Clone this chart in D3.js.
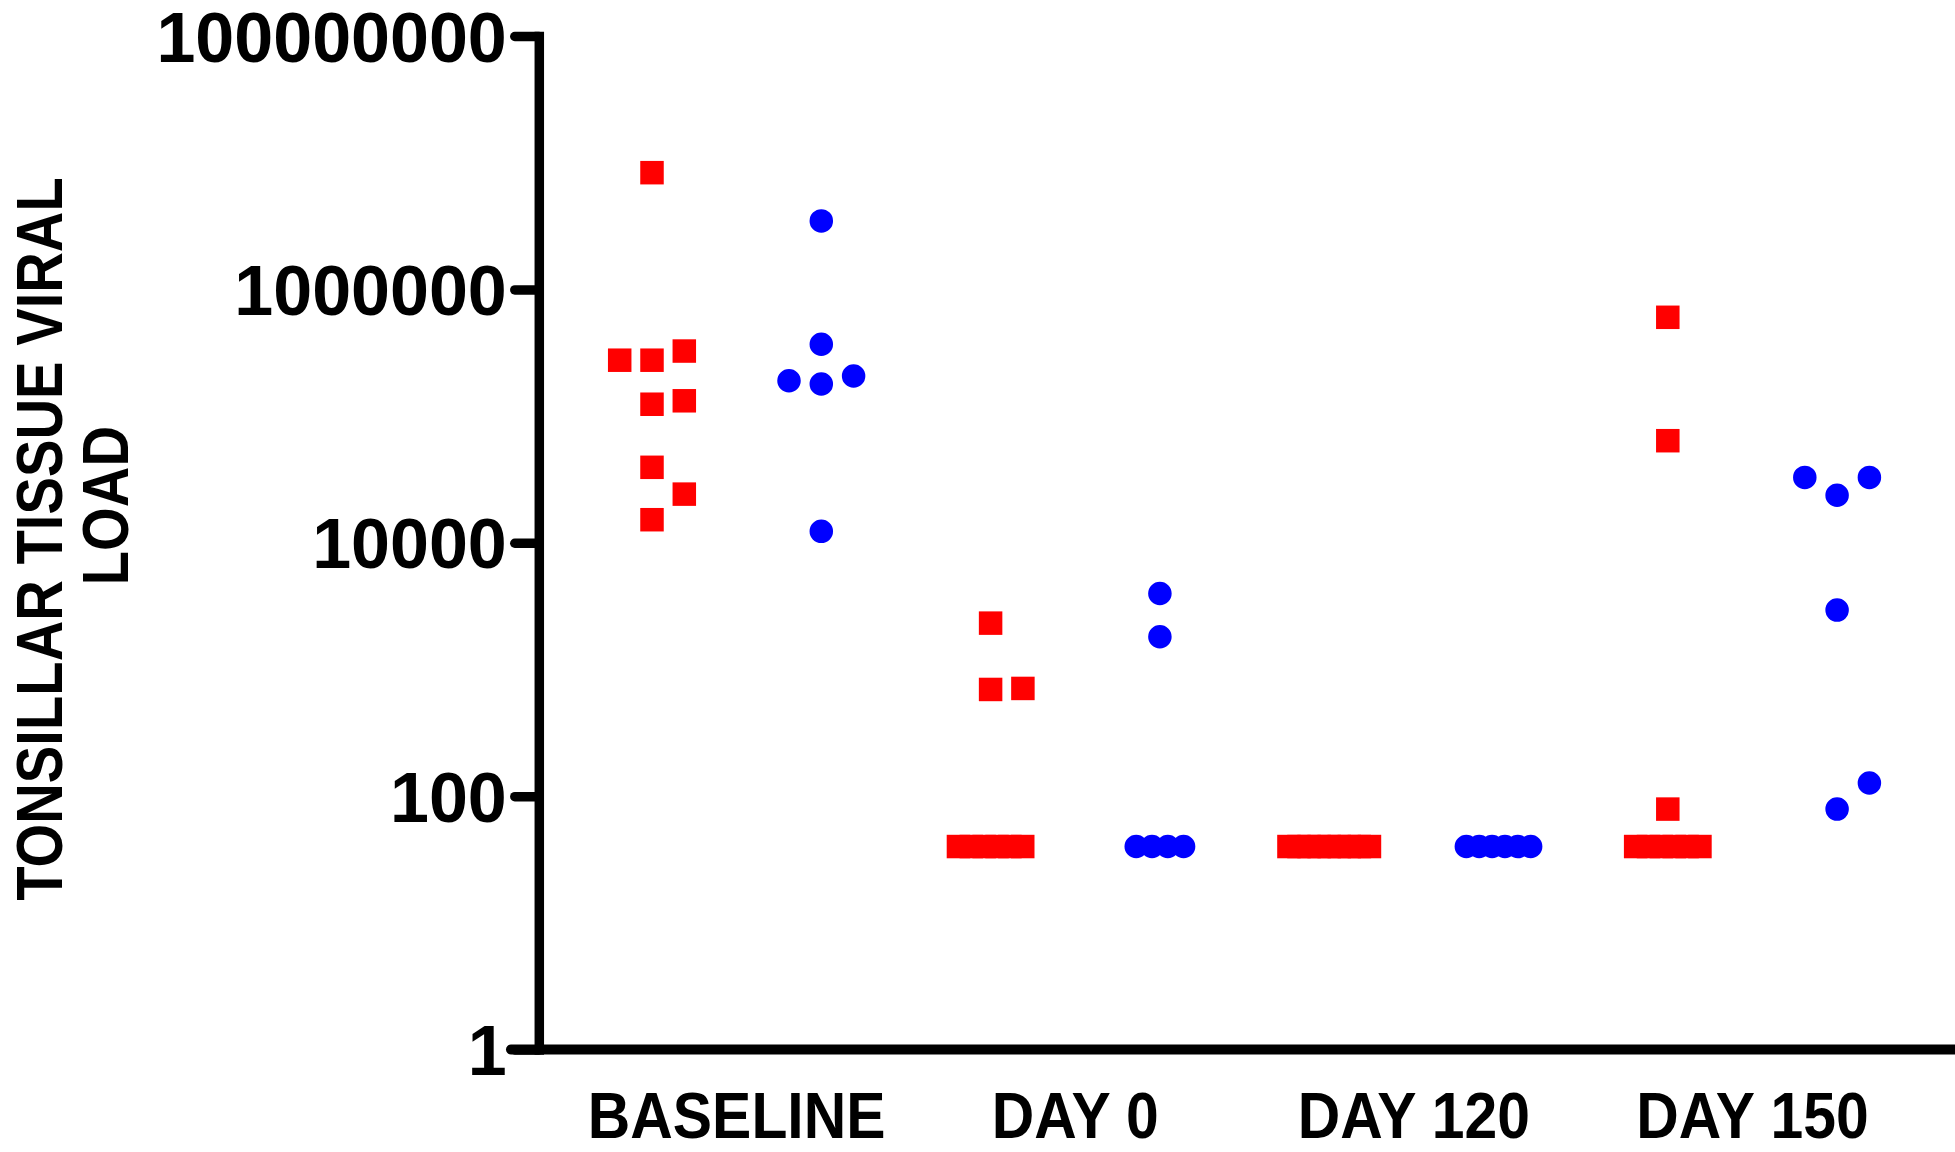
<!DOCTYPE html>
<html>
<head>
<meta charset="utf-8">
<script src="https://cdn.jsdelivr.net/npm/d3@7"></script>
<style>
  body { margin: 0; background: #fff; }
  text { font-family: "Liberation Sans", Arial, sans-serif; font-weight: bold; }
</style>
</head>
<body>
<div id="chart"></div>
<script>
const categories = ["BASELINE", "DAY 0", "DAY 120", "DAY 150"];
const series = ["squares", "circles"];
const yTicks = [1, 100, 10000, 1000000, 100000000];
const titleLines = ["TONSILLAR TISSUE VIRAL", "LOAD"];
const LOD = 40; // values below detection are plotted at this level

// red squares, one array per time point
const squaresBaseline = [276000, 326000, 276000, 124000, 132000, 39400, 15200, 24200, 8340000];
const squaresDay0 = [695, 708, 2320, 40, 40, 40, 40, 40, 40];
const squaresDay120 = [40, 40, 40, 40, 40, 40, 40, 40, 40];
const squaresDay150 = [602000, 63900, 79, 40, 40, 40, 40, 40, 40];

// blue circles
const circlesBaseline = [369000, 179000, 207000, 190000, 12300, 3470000];
const circlesDay0 = [3980, 1810, 40, 40, 40, 40];
const circlesDay120 = [40, 40, 40, 40, 40, 40];
const circlesDay150 = [23700, 32800, 32800, 2940, 79, 127];

const squares = [squaresBaseline, squaresDay0, squaresDay120, squaresDay150];
const circles = [circlesBaseline, circlesDay0, circlesDay120, circlesDay150];

const width = 1955, height = 1152;

const svg = d3.select("#chart").append("svg")
    .attr("width", width)
    .attr("height", height)
    .attr("viewBox", [0, 0, width, height].join(" "));

const y = d3.scaleLog().domain([1, 1e8]).range([1049.5, 36]);
const x = d3.scaleBand().domain(categories).range([567.35, 1921.75]);
const side = d3.scalePoint().domain(series).range([-84.65, 84.65]);

// scatter-dot layout: symbols too close vertically are pushed sideways,
// the ones at the detection limit are packed in one row
const slot = 32.3, near = 32;
function layout(values) {
    const placed = [];
    const nLod = values.filter(v => v === LOD).length;
    const step = 4.3 * slot / (nLod + 4.8);
    let j = 0;
    return values.map(function(v) {
        if (v === LOD) {
            return {v: v, dx: (j++ - (nLod - 1) / 2) * step};
        }
        const py = y(v);
        const k = [0, 1, -1, 2, -2, 3, -3].find(k => !placed.some(p => p.k === k && Math.abs(p.y - py) < near));
        placed.push({y: py, k: k});
        return {v: v, dx: k * slot};
    });
}

const points = [];
categories.forEach(function(c, i) {
    layout(squares[i]).forEach(p => points.push({cat: c, s: "squares", v: p.v, dx: p.dx}));
    layout(circles[i]).forEach(p => points.push({cat: c, s: "circles", v: p.v, dx: p.dx}));
});

const symSize = 23.5;
const squareSym = d3.symbol().type(d3.symbolSquare).size(symSize * symSize);
const circleSym = d3.symbol().type(d3.symbolCircle).size(Math.PI * symSize * symSize / 4);

svg.append("g").selectAll("path")
    .data(points)
    .enter().append("path")
    .attr("transform", d => "translate(" + (x(d.cat) + x.bandwidth() / 2 + side(d.s) + d.dx) + "," + y(d.v) + ")")
    .attr("d", d => d.s === "squares" ? squareSym() : circleSym())
    .style("fill", d => d.s === "squares" ? "#ff0000" : "#0000ff");

// y axis
const axisX = 538.8;
svg.append("g")
    .attr("transform", "translate(" + axisX + ",0)")
    .call(d3.axisLeft(y).tickValues(yTicks).tickFormat(d3.format("d")).tickSize(24).tickPadding(8).tickSizeOuter(0))
    .attr("font-family", null)
    .attr("font-size", 70)
    .call(g => g.select(".domain").attr("stroke", "#000").attr("stroke-width", 9.5).attr("stroke-linecap", "square"))
    .call(g => g.selectAll(".tick line").attr("stroke", "#000").attr("stroke-width", 9.5).attr("stroke-linecap", "round"))
    .call(g => g.selectAll(".tick text").attr("fill", "#000").attr("dy", "0.36em"));

// x axis
svg.append("line")
    .attr("x1", 511).attr("x2", width)
    .attr("y1", y(1)).attr("y2", y(1))
    .style("stroke", "#000")
    .style("stroke-width", 10)
    .style("stroke-linecap", "round");

svg.append("g")
    .attr("transform", "translate(0," + y(1) + ")")
    .call(d3.axisBottom(x).tickSize(0).tickPadding(43))
    .attr("font-family", null)
    .attr("font-size", 64)
    .call(g => g.select(".domain").remove())
    .call(g => g.selectAll(".tick text").attr("fill", "#000").attr("transform", "scale(0.92,1)"));

// y title, two lines
svg.append("text")
    .attr("transform", "translate(62,539) rotate(-90) scale(0.865,1)")
    .attr("text-anchor", "middle")
    .attr("font-size", 65)
    .text(titleLines[0]);

svg.append("text")
    .attr("transform", "translate(128,505.6) rotate(-90) scale(0.865,1)")
    .attr("text-anchor", "middle")
    .attr("font-size", 65)
    .text(titleLines[1]);
</script>
</body>
</html>
